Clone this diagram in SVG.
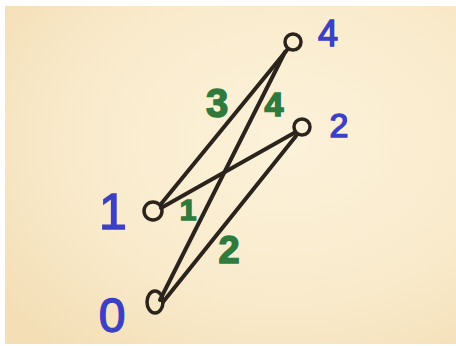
<svg xmlns="http://www.w3.org/2000/svg" width="456" height="346" viewBox="0 0 456 346">
<defs>
<radialGradient id="paper" cx="0.62" cy="0.4" r="0.8">
<stop offset="0" stop-color="#fcf2da"/>
<stop offset="0.6" stop-color="#f9eacb"/>
<stop offset="1" stop-color="#f3deb5"/>
</radialGradient>
<style>
.edge{fill:none;stroke:#2b241c;stroke-width:4;stroke-linecap:round}
.node{fill:none;stroke:#2b241c;stroke-width:3.5}
.nl{font-family:"Liberation Sans",Arial,sans-serif;fill:#3b40c4;stroke:#3b40c4;stroke-width:1.4;text-anchor:middle}
.el{font-family:"Liberation Sans",Arial,sans-serif;fill:#2f7a3c;stroke:#2f7a3c;stroke-width:1.5;text-anchor:middle;font-weight:bold}
</style>
</defs>
<rect x="0" y="0" width="456" height="346" fill="#ffffff"/>
<rect x="5" y="6" width="451" height="338" fill="url(#paper)"/>
<g id="edges">
<path class="edge" d="M287,50 L161,204"/>
<path class="edge" d="M285,52 L160,300"/>
<path class="edge" d="M294,133 L161,208"/>
<path class="edge" d="M296,136 L163,302"/>
</g>
<g id="node4"><circle class="node" cx="293" cy="42" r="8"/><text class="nl" x="328" y="46" font-size="36">4</text></g>
<g id="node2"><circle class="node" cx="302" cy="127" r="8"/><text class="nl" x="339" y="137" font-size="34">2</text></g>
<g id="node1"><circle class="node" cx="153" cy="211" r="9"/><text class="nl" x="113" y="229" font-size="50">1</text></g>
<g id="node0"><ellipse class="node" cx="155" cy="302" rx="8" ry="11"/><text class="nl" x="112" y="332" font-size="48">0</text></g>
<g id="edge-labels">
<text class="el" x="217" y="117" font-size="40">3</text>
<text class="el" x="274" y="116" font-size="34">4</text>
<text class="el" x="188" y="220" font-size="30">1</text>
<text class="el" x="229" y="263" font-size="38">2</text>
</g>
</svg>
